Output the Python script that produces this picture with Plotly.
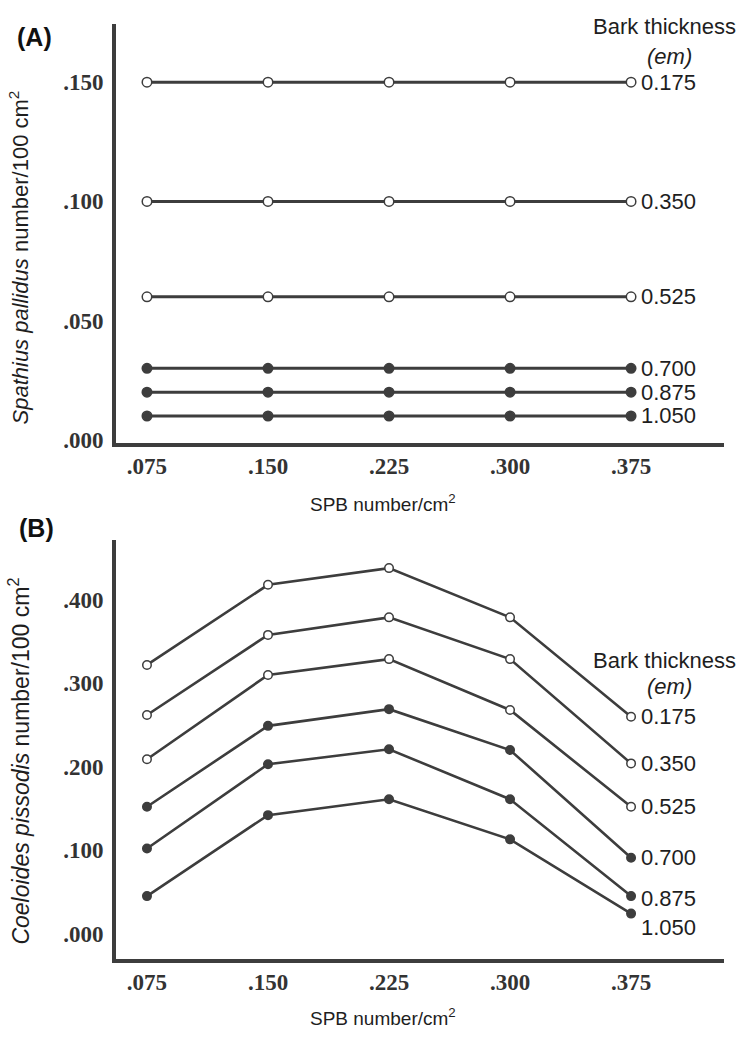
import plotly.graph_objects as go

W, H = 740, 1038

# ---------------- data ----------------
spb = [0.075, 0.150, 0.225, 0.300, 0.375]
x_ticktext = [".075", ".150", ".225", ".300", ".375"]
bark = ["0.175", "0.350", "0.525", "0.700", "0.875", "1.050"]
open_marker = [True, True, True, False, False, False]

# Panel A: Spathius pallidus number/100 cm2
spathius = {
    "0.175": [0.150, 0.150, 0.150, 0.150, 0.150],
    "0.350": [0.100, 0.100, 0.100, 0.100, 0.100],
    "0.525": [0.060, 0.060, 0.060, 0.060, 0.060],
    "0.700": [0.030, 0.030, 0.030, 0.030, 0.030],
    "0.875": [0.020, 0.020, 0.020, 0.020, 0.020],
    "1.050": [0.010, 0.010, 0.010, 0.010, 0.010],
}
a_tickvals = [0.0, 0.05, 0.10, 0.15]
a_ticktext = [".000", ".050", ".100", ".150"]

# Panel B: Coeloides pissodis number/100 cm2
coeloides = {
    "0.175": [0.322, 0.418, 0.438, 0.379, 0.260],
    "0.350": [0.262, 0.358, 0.379, 0.329, 0.204],
    "0.525": [0.209, 0.310, 0.329, 0.268, 0.152],
    "0.700": [0.152, 0.249, 0.269, 0.220, 0.091],
    "0.875": [0.102, 0.203, 0.221, 0.161, 0.045],
    "1.050": [0.045, 0.142, 0.161, 0.113, 0.024],
}
b_tickvals = [0.0, 0.1, 0.2, 0.3, 0.4]
b_ticktext = [".000", ".100", ".200", ".300", ".400"]

# ---------------- style ----------------
LINE = "#3d3d3d"
TXT = "#1e1e1e"
SANS = "Liberation Sans"
SERIF = "Liberation Serif"


def px_x(p):
    return p / W


def px_y(p):
    return 1 - p / H


fig = go.Figure()

panels = [
    ("x", "y", spathius, 3, 9.5),
    ("x2", "y2", coeloides, 2.6, 8.5),
]
for xa, ya, data, lw, ms in panels:
    for b, is_open in zip(bark, open_marker):
        fig.add_trace(go.Scatter(
            x=spb, y=data[b], xaxis=xa, yaxis=ya, mode="lines+markers",
            line=dict(color=LINE, width=lw),
            marker=dict(size=ms, color="white" if is_open else LINE,
                        line=dict(color=LINE, width=1.5)),
            showlegend=False, hoverinfo="skip", cliponaxis=False,
        ))

# axis geometry (pixels)
X_L, X_R = 116, 724
A_T, A_B = 24, 447
B_T, B_B = 545, 968

xcommon = dict(range=[0.0558, 0.4326], showline=True, linecolor=LINE, linewidth=4,
               showgrid=False, zeroline=False, ticks="", tickvals=spb,
               ticktext=x_ticktext, ticklabelstandoff=0,
               tickfont=dict(family=SERIF, size=23, color="#333", weight="bold"))
ycommon = dict(showline=True, linecolor=LINE, linewidth=4, showgrid=False,
               zeroline=False, ticks="", ticklabelstandoff=4,
               tickfont=dict(family=SERIF, size=23, color="#333", weight="bold"))

fig.update_layout(
    width=W, height=H, margin=dict(l=0, r=0, t=0, b=0),
    paper_bgcolor="white", plot_bgcolor="white",
    xaxis=dict(domain=[px_x(X_L), px_x(X_R)], anchor="y", **xcommon),
    yaxis=dict(domain=[px_y(A_B), px_y(A_T)], anchor="x",
               range=[-0.0012, 0.1745], tickvals=a_tickvals, ticktext=a_ticktext, **ycommon),
    xaxis2=dict(domain=[px_x(X_L), px_x(X_R)], anchor="y2", **xcommon),
    yaxis2=dict(domain=[px_y(B_B), px_y(B_T)], anchor="x2",
                range=[-0.030, 0.472], tickvals=b_tickvals, ticktext=b_ticktext, **ycommon),
)

ann = []
# right-hand bark thickness labels
for xr, yr, data in [("x", "y", spathius), ("x2", "y2", coeloides)]:
    for b in bark:
        ys = 0
        if yr == "y2" and b == "1.050":
            ys = -14
        if yr == "y2" and b == "0.875":
            ys = -2
        ann.append(dict(x=spb[-1], y=data[b][-1], xref=xr, yref=yr, text=b,
                        showarrow=False, xanchor="left", yanchor="middle",
                        xshift=8, yshift=ys,
                        font=dict(family=SANS, size=22, color=TXT)))


def pann(x, y, text, size, **kw):
    d = dict(x=px_x(x), y=px_y(y), xref="paper", yref="paper", text=text,
             showarrow=False, xanchor="center", yanchor="middle",
             font=dict(family=SANS, size=size, color=kw.pop("color", TXT)))
    d.update(kw)
    ann.append(d)


# legend headings
for y_bt, y_em in [(27, 57), (667, 693)]:
    pann(664, y_bt, "Bark thickness", 22)
    pann(669, y_em, "<i>(em)</i>", 22)

# panel letters
pann(34, 37, "<b>(A)</b>", 25, color="#111")
pann(36, 533, "<b>(B)</b>", 25, color="#111")

# x-axis titles
for yy in [508, 1027]:
    pann(383, yy, "SPB number/cm<sup>2</sup>", 19)

# y-axis titles
pann(19, 260, "<i>Spathius pallidus</i> number/100 cm<sup>2</sup>", 22, textangle=-90)
pann(19, 769, "<i>Coeloides pissodis</i> number/100 cm<sup>2</sup>", 23, textangle=-90)

fig.update_layout(annotations=ann)

fig.write_html("out.html", config={"displayModeBar": False},
               post_script="document.body.style.margin='0';document.body.style.overflow='hidden';")
